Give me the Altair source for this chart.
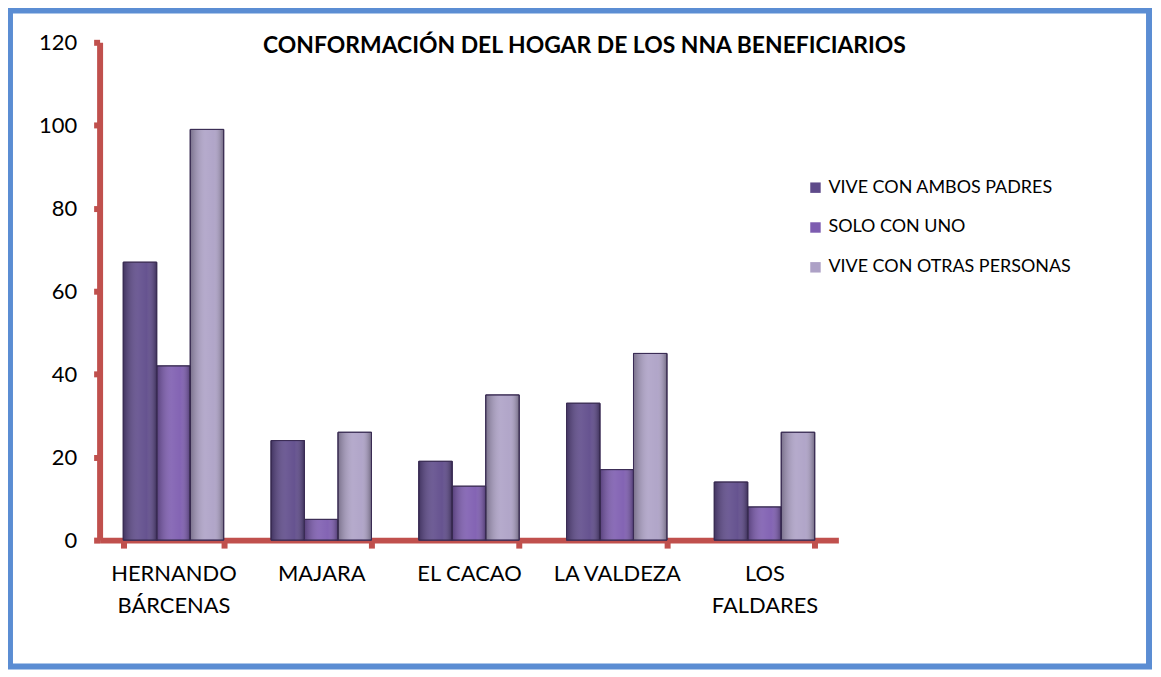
import altair as alt
import pandas as pd

categories = ["HERNANDO BÁRCENAS", "MAJARA", "EL CACAO", "LA VALDEZA", "LOS FALDARES"]
cat_lines = [["HERNANDO", "BÁRCENAS"], ["MAJARA"], ["EL CACAO"], ["LA VALDEZA"], ["LOS", "FALDARES"]]
series = ["VIVE CON AMBOS PADRES", "SOLO CON UNO", "VIVE CON OTRAS PERSONAS"]
ambos = [67, 24, 19, 33, 14]
uno = [42, 5, 13, 17, 8]
otras = [99, 26, 35, 45, 26]
colors = ["#5E4A8A", "#7D5CB0", "#ADA1C6"]
y_ticks = [0, 20, 40, 60, 80, 100, 120]
title = "CONFORMACIÓN DEL HOGAR DE LOS NNA BENEFICIARIOS"

rows = []
for s, vals in zip(series, [ambos, uno, otras]):
    for c, v in zip(categories, vals):
        rows.append({"cat": c, "serie": s, "valor": v})
df = pd.DataFrame(rows)

label_expr = " : ".join(
    f"datum.value == '{c}' ? {lines!r}" for c, lines in zip(categories, cat_lines)
) + " : datum.label"

FONT = "Lato"
RED = "#C0504D"

x_enc = alt.X("cat:N", sort=categories, title=None,
              scale=alt.Scale(paddingInner=0.32, paddingOuter=0.16),
              axis=alt.Axis(labelExpr=label_expr, labelAngle=0, labelFont=FONT,
                            labelFontSize=22, labelColor="#000", labelLineHeight=32,
                            labelPadding=16, tickBand="extent", tickSize=8,
                            tickWidth=6, tickColor=RED, domainColor=RED,
                            domainWidth=6, grid=False))
y_enc = alt.Y("valor:Q", title=None,
              scale=alt.Scale(domain=[0, 120], nice=False),
              axis=alt.Axis(values=y_ticks, labelFont=FONT, labelFontSize=22,
                            labelColor="#000", labelPadding=17, tickSize=6,
                            tickWidth=6, tickColor=RED, domainColor=RED,
                            domainWidth=6, grid=False))
xoff = alt.XOffset("serie:N", sort=series, scale=alt.Scale(domain=series))

bars = alt.Chart(df).mark_bar(stroke="#3A2C55", strokeWidth=1).encode(
    x=x_enc, y=y_enc, xOffset=xoff,
    color=alt.Color("serie:N", sort=series,
                    scale=alt.Scale(domain=series, range=colors),
                    legend=alt.Legend(title=None, orient="none", legendX=710,
                                      legendY=137, symbolType="square",
                                      symbolSize=110, symbolStrokeWidth=0,
                                      labelFont=FONT, labelFontSize=18,
                                      labelColor="#000", rowPadding=22,
                                      labelOffset=4, labelLimit=0)),
)

shade = alt.Chart(df).mark_bar(
    fill=alt.Gradient(
        gradient="linear", x1=0, y1=0, x2=1, y2=0,
        stops=[
            alt.GradientStop(color="rgba(0,0,0,0.30)", offset=0),
            alt.GradientStop(color="rgba(255,255,255,0.10)", offset=0.45),
            alt.GradientStop(color="rgba(255,255,255,0.05)", offset=0.7),
            alt.GradientStop(color="rgba(0,0,0,0.35)", offset=1),
        ],
    ),
    stroke="#3A2C55", strokeWidth=1,
).encode(x=alt.X("cat:N", sort=categories), y="valor:Q", xOffset=xoff)

title_layer = alt.Chart(alt.Data(values=[{"t": title}])).mark_text(
    font=FONT, fontSize=23, fontWeight="bold", color="#000",
    align="center", baseline="middle"
).encode(text="t:N", x=alt.value(487), y=alt.value(4))

frame = alt.Chart(alt.Data(values=[{"k": 1}])).mark_rect(
    filled=False, stroke="#5B8DD3", strokeWidth=6
).encode(x=alt.value(-90), x2=alt.value(1054), y=alt.value(-32), y2=alt.value(627))

chart = alt.layer(bars, shade, title_layer, frame).properties(
    width=742, height=500,
    autosize=alt.AutoSizeParams(type="none"),
    padding={"left": 92, "top": 33, "right": 316, "bottom": 131},
).configure(background="white").configure_view(stroke="transparent", strokeWidth=0)

chart.save("out.html", embed_options={"renderer": "svg", "actions": False})
